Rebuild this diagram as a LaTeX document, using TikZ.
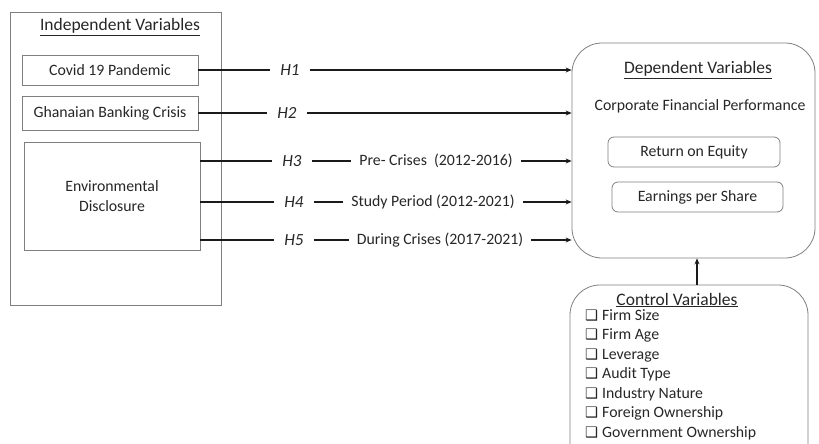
\documentclass[tikz,border=0pt]{standalone}
\usepackage{fontspec}
\setmainfont{Carlito}
\newfontfamily\symfont{DejaVu Sans}
\usetikzlibrary{arrows.meta, positioning, calc}
\definecolor{boxgray}{HTML}{7F7F7F}
\definecolor{linedark}{HTML}{1A1A1A}
\definecolor{textdark}{HTML}{262626}
\newcommand{\chk}{{\symfont\fontsize{14.5}{14.5}\selectfont\char"2751}\hspace{4pt}}

\begin{document}
\begin{tikzpicture}[x=1pt, y=-1pt,
      font=\fontsize{15.8}{19.5}\selectfont, text=textdark,
      varbox/.style={rectangle, draw=boxgray, line width=0.8pt, align=center, inner sep=0pt},
      roundbox/.style={varbox, rounded corners=30pt},
      title/.style={font=\fontsize{17.5}{17.5}\selectfont},
      hlabel/.style={font=\fontsize{17}{17}\selectfont\itshape, inner xsep=10pt},
      period/.style={inner xsep=8pt},
      link/.style={line width=1.8pt, linedark},
      arrow/.style={link, -{Stealth[length=6pt, width=5pt]}}
    ]
    \useasboundingbox (0,0) rectangle (819,444);
    \clip (0,0) rectangle (819,444);

    % independent side
    \node[varbox, minimum width=211pt, minimum height=293pt] (indep) at (115.5,158.5) {};
    \node[title] (indeptitle) at (120,27) {\underline{Independent Variables}};
    \node[varbox, minimum width=176pt, minimum height=30pt] (covid) at (110,70) {Covid 19 Pandemic};
    \node[varbox, minimum width=176pt, minimum height=34pt] (bank) at (110,113.5) {Ghanaian Banking Crisis};
    \node[varbox, minimum width=176pt, minimum height=108pt] (env) at (112,196) {Environmental\\Disclosure};

    % dependent side
    \node[roundbox, minimum width=243pt, minimum height=215pt] (dep) at (693.5,150.5) {};
    \node[title] (deptitle) at (698,70) {\underline{Dependent Variables}};
    \node (cfp) at (700,106) {Corporate Financial Performance};
    \node[varbox, rounded corners=6pt, minimum width=172pt, minimum height=30pt] (roe) at (694,152) {Return on Equity};
    \node[varbox, rounded corners=6pt, minimum width=171pt, minimum height=30pt] (eps) at (697.5,197) {Earnings per Share};

    % control variables
    \node[roundbox, minimum width=238pt, minimum height=190pt] (ctrl) at (689,380) {};
    \node[title] (ctrltitle) at (677,300) {\underline{Control Variables}};
    \node[anchor=north west, align=left, inner sep=0pt] (ctrllist) at (585,309)
      {\chk Firm Size\\ \chk Firm Age\\ \chk Leverage\\ \chk Audit Type\\
       \chk Industry Nature\\ \chk Foreign Ownership\\ \chk Government Ownership};

    % hypotheses
    \node[hlabel] (h1) at (290,70) {H1};
    \node[hlabel] (h2) at (287,113) {H2};
    \node[hlabel] (h3) at (292,161) {H3};
    \node[hlabel] (h4) at (294,202) {H4};
    \node[hlabel] (h5) at (294,240) {H5};
    \node[period] (pre) at (436,161) {Pre- Crises\ \ (2012-2016)};
    \node[period] (study) at (433,202) {Study Period (2012-2021)};
    \node[period] (during) at (440,240) {During Crises (2017-2021)};

    \draw[link] (covid.east) -- (h1.west |- covid.east);
    \draw[arrow] (h1.east) -- (h1.east -| dep.west);
    \draw[link] (bank.east |- h2.west) -- (h2.west);
    \draw[arrow] (h2.east) -- (h2.east -| dep.west);
    \draw[link] (env.east |- h3.west) -- (h3.west);
    \draw[link] (h3.east) -- (pre.west);
    \draw[arrow] (pre.east) -- (pre.east -| dep.west);
    \draw[link] (env.east |- h4.west) -- (h4.west);
    \draw[link] (h4.east) -- (study.west);
    \draw[arrow] (study.east) -- (study.east -| dep.west);
    \draw[link] (env.east |- h5.west) -- (h5.west);
    \draw[link] (h5.east) -- (during.west);
    \draw[arrow] (during.east) -- (during.east -| dep.west);
    \draw[arrow] (ctrl.north -| 697,0) -- (dep.south -| 697,0);
  \end{tikzpicture}
\end{document}
